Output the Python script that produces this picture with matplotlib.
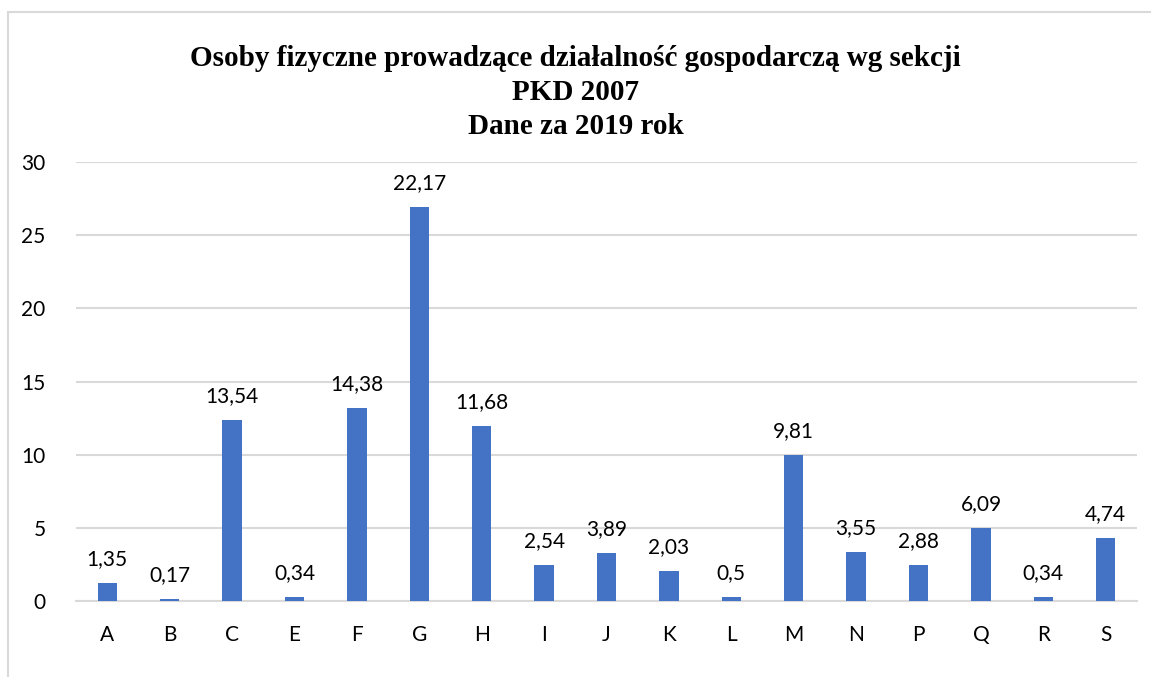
import matplotlib.pyplot as plt
from matplotlib.patches import Rectangle

# dane
sekcje = ['A', 'B', 'C', 'E', 'F', 'G', 'H', 'I', 'J', 'K', 'L', 'M', 'N', 'P', 'Q', 'R', 'S']
wysokosci = [1.25, 0.16, 12.38, 0.27, 13.18, 26.9, 11.99, 2.46, 3.28, 2.05, 0.27, 9.99, 3.35, 2.46, 4.99, 0.27, 4.29]
etykiety = ['1,35', '0,17', '13,54', '0,34', '14,38', '22,17', '11,68', '2,54', '3,89', '2,03',
            '0,5', '9,81', '3,55', '2,88', '6,09', '0,34', '4,74']

fig = plt.figure(figsize=(11.51, 6.77), dpi=100)
ax = fig.add_axes([76 / 1151, 1 - 601 / 677, (1137 - 76) / 1151, (601 - 162) / 677])

x = range(len(sekcje))
bars = ax.bar(x, wysokosci, width=0.31, color='#4472C4', zorder=3)

for b, txt in zip(bars, etykiety):
    ax.annotate(txt, (b.get_x() + b.get_width() / 2, b.get_height()),
                xytext=(0, 10), textcoords='offset points', ha='center', va='bottom',
                fontsize=15, family='Lato', color='black')

ax.set_xlim(-0.5, len(sekcje) - 0.5)
ax.set_ylim(0, 30)
ax.set_yticks(range(0, 31, 5))
ax.set_xticks(list(x))
ax.set_xticklabels(sekcje)
ax.grid(axis='y', color='#D9D9D9', linewidth=1.5, zorder=0)
for s in ['top', 'right', 'left']:
    ax.spines[s].set_visible(False)
ax.spines['bottom'].set_color('#D9D9D9')
ax.spines['bottom'].set_linewidth(1.5)
ax.tick_params(axis='both', length=0, labelsize=15)
ax.tick_params(axis='y', pad=22)
ax.tick_params(axis='x', pad=17)
for lab in ax.get_xticklabels() + ax.get_yticklabels():
    lab.set_family('Lato')

fig.text(0.5, 1 - 58 / 677, 'Osoby fizyczne prowadzące działalność gospodarczą wg sekcji',
         ha='center', va='center', fontsize=21, fontweight='bold', family='Liberation Serif')
fig.text(0.5, 1 - 93 / 677, 'PKD 2007',
         ha='center', va='center', fontsize=21, fontweight='bold', family='Liberation Serif')
fig.text(0.5, 1 - 127 / 677, 'Dane za 2019 rok',
         ha='center', va='center', fontsize=21, fontweight='bold', family='Liberation Serif')

# ramka wykresu
fig.patches.append(Rectangle((8 / 1151, -0.01), 1.02, 1 - 12 / 677 + 0.01, transform=fig.transFigure,
                             fill=False, edgecolor='#D9D9D9', linewidth=1.5))

fig.savefig('out.png', dpi=100)
